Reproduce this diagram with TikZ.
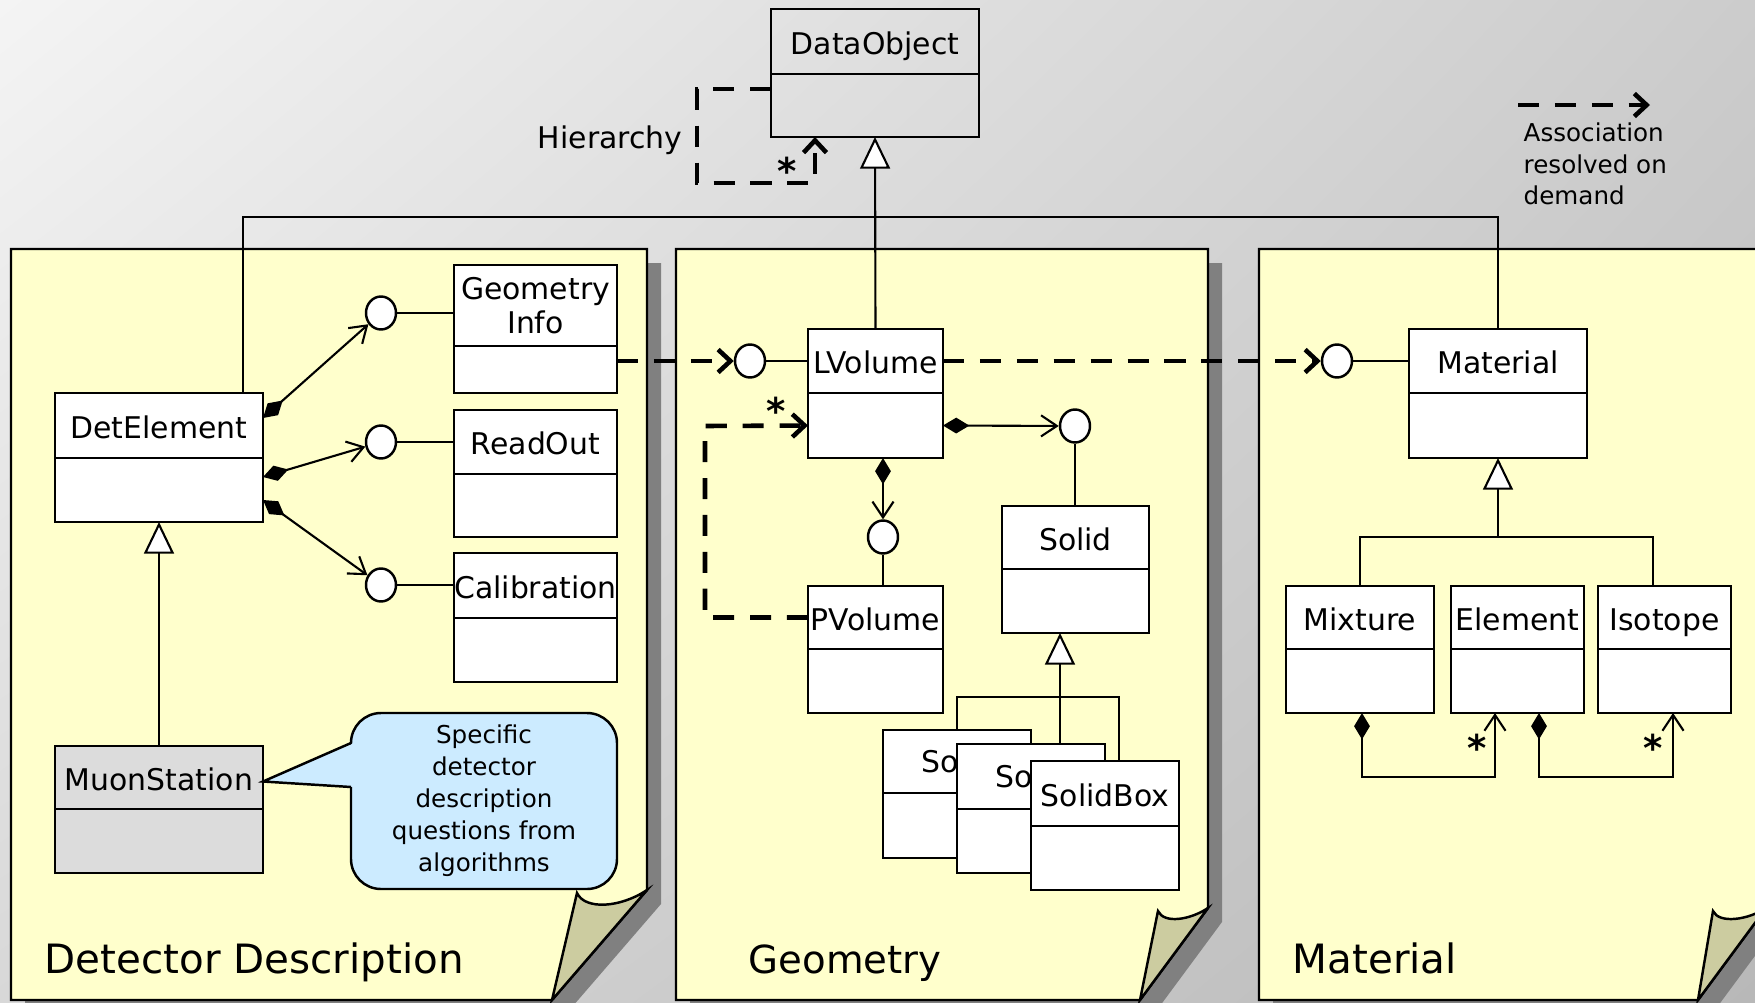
\documentclass[tikz,border=0pt]{standalone}
\usepackage{fontspec}
\setmainfont{DejaVu Sans}
\usetikzlibrary{arrows.meta,shapes.geometric,shadings,positioning}
\definecolor{paper}{RGB}{255,255,204}
\definecolor{flap}{RGB}{204,204,160}
\definecolor{shadowgray}{RGB}{128,128,128}
\definecolor{notefill}{RGB}{204,235,255}
\definecolor{muongray}{RGB}{220,220,220}
\definecolor{bgul}{RGB}{244,244,244}
\definecolor{bgur}{RGB}{204,204,204}
\definecolor{bgll}{RGB}{216,216,216}
\definecolor{bglr}{RGB}{184,184,184}
\begin{document}
\begin{tikzpicture}[x=0.1mm, y=-0.1mm,
    hdr/.style={draw, line width=0.7pt, inner sep=0pt, outer sep=0pt, anchor=north, align=center,
      font=\fontsize{8.5}{9.8}\selectfont},
    oneline/.style={text height=0.73em, text depth=0pt},
    bdy/.style={draw, line width=0.7pt, inner sep=0pt, outer sep=0pt, anchor=north},
    cname/.style={inner sep=0pt, font=\fontsize{8.5}{9.8}\selectfont},
    iface/.style={ellipse, draw, fill=white, line width=0.7pt, minimum width=3mm, minimum height=3.3mm, inner sep=0pt},
    link/.style={line width=0.6pt},
    inh/.style={link, -{Triangle[length=9pt,width=8.5pt,fill=white]}},
    comp/.style={link, {Diamond[length=7.5pt,width=4.5pt]}-{Straight Barb[length=4.5pt,width=6pt]}},
    assoc/.style={line width=1.3pt, dash pattern=on 6pt off 4.5pt, -{Straight Barb[length=3.5pt,width=6.5pt]}},
    mult/.style={anchor=north, inner sep=0pt, font=\fontsize{10.5}{11}\selectfont\bfseries},
    panel/.style={draw, fill=paper, line width=0.7pt},
    lbl/.style={anchor=base west, inner sep=0pt, font=\fontsize{11.5}{13}\selectfont}]

    \useasboundingbox (0,0) rectangle (1755,1003);
    \shade[shading=bilinear interpolation, upper left=bgul, upper right=bgur, lower left=bgll, lower right=bglr] (0,0) rectangle (1755,1003);

    \foreach \l/\r/\f/\b in {11/647/890/552, 676/1208/908/1140, 1259/1766/908/1698} {
        \fill[shadowgray] (\l+14,263) -- (\r+14,263) -- (\r+14,\f+14) -- (\b+14,1014) -- (\l+14,1014) -- cycle;
    }
    \foreach \l/\r/\f/\b in {11/647/890/552, 676/1208/908/1140, 1259/1766/908/1698} {
        \draw[panel] (\l,249) -- (\r,249) -- (\r,\f) -- (\b,1000) -- (\l,1000) -- cycle;
    }
    \draw[fill=flap, line width=0.7pt] (577,893) .. controls +(8,17) and +(-27,18) .. (647,890) -- (552,1000) -- cycle;
    \draw[fill=flap, line width=0.7pt] (1158,911) .. controls +(6,13) and +(-18,12) .. (1208,908) -- (1140,1000) -- cycle;
    \draw[fill=flap, line width=0.7pt] (1713,911) .. controls +(6,13) and +(-18,12) .. (1766,908) -- (1698,1000) -- cycle;

    \node[lbl] (ddlabel) at (44,973) {Detector Description};
    \node[lbl, font=\fontsize{11}{13}\selectfont] (geolabel) at (748,973) {Geometry};
    \node[lbl] (matlabel) at (1292,973) {Material};

    \foreach \nm/\cx/\ty/\w/\hh/\bh/\fc in {
        DataObject/875/9/208/65/63/none,
        DetElement/159/393/208/65/64/white,
        ReadOut/535.5/410/163/64/63/white,
        Calibration/535.5/553/163/65/64/white,
        MuonStation/159/746/208/63/64/muongray,
        LVolume/875.5/329/135/64/65/white,
        PVolume/875.5/586/135/63/64/white,
        Solid/1075.5/506/147/63/64/white,
        Material/1498/329/178/64/65/white,
        Mixture/1360/586/148/63/64/white,
        Element/1517.5/586/133/63/64/white,
        Isotope/1664.5/586/133/63/64/white} {
        \node[hdr, oneline, fill=\fc, minimum width={\w*0.1mm}, minimum height={\hh*0.1mm}] (\nm) at (\cx,\ty) {\nm};
        \node[bdy, fill=\fc, minimum width={\w*0.1mm}, minimum height={\bh*0.1mm}] (\nm-b) at (\nm.south) {};
    }
    \node[hdr, fill=white, minimum width=16.3mm, minimum height=8.1mm] (GeometryInfo) at (535.5,265) {Geometry\\Info};
    \node[bdy, fill=white, minimum width=16.3mm, minimum height=4.7mm] (GeometryInfo-b) at (GeometryInfo.south) {};

    \node[hdr, fill=white, minimum width=14.8mm, minimum height=6.3mm] (So1) at (957,730) {};
    \node[bdy, fill=white, minimum width=14.8mm, minimum height=6.5mm] (So1-b) at (So1.south) {};
    \node[cname, anchor=west] (So1-t) at ([xshift=3.8mm]So1.west) {So};
    \node[hdr, fill=white, minimum width=14.8mm, minimum height=6.5mm] (So2) at (1031,744) {};
    \node[bdy, fill=white, minimum width=14.8mm, minimum height=6.4mm] (So2-b) at (So2.south) {};
    \node[cname, anchor=west] (So2-t) at ([xshift=3.8mm]So2.west) {So};
    \node[hdr, oneline, fill=white, minimum width=14.8mm, minimum height=6.5mm] (SolidBox) at (1105,761) {SolidBox};
    \node[bdy, fill=white, minimum width=14.8mm, minimum height=6.4mm] (SolidBox-b) at (SolidBox.south) {};

    \coordinate (tl) at (243,217);
    \coordinate (tr) at (1498,217);
    \draw[link] (tl |- DetElement.north) -- (tl) -- (tr) -- (Material.north);
    \draw[inh] (LVolume.north) -- (DataObject-b.south);

    \coordinate (h1) at (697,89);
    \coordinate (h2) at (697,183);
    \coordinate (h3) at (815,183);
    \draw[assoc] (h1 -| DataObject-b.west) -- (h1) -- (h2) -- (h3) -- (h3 |- DataObject-b.south);
    \node[mult] (hstar) at (787,156) {*};
    \node[cname, anchor=east] (hier) at (683,140) {Hierarchy};

    \node[iface] (gi) at (381,313) {};
    \node[iface] (ri) at (381,442) {};
    \node[iface] (ci) at (381,585) {};
    \draw[link] (gi) -- (gi -| GeometryInfo.west);
    \draw[link] (ri) -- (ri -| ReadOut.west);
    \draw[link] (ci) -- (ci -| Calibration.west);
    \draw[comp] ([yshift=0.75mm]DetElement.east) -- (gi);
    \draw[comp] ([yshift=1.3mm]DetElement-b.east) -- (ri);
    \draw[comp] ([yshift=-1mm]DetElement-b.east) -- (ci);
    \draw[inh] (MuonStation.north) -- (DetElement-b.south);

    \node[draw, fill=notefill, rounded corners=3mm, line width=0.7pt, minimum width=26.6mm, minimum height=17.6mm,
      inner sep=0pt, align=center, font=\fontsize{7}{9.1}\selectfont] (note) at (484,801)
      {Specific\\detector\\description\\questions from\\algorithms};
    \coordinate (n1) at (351,743);
    \coordinate (n2) at (351,787);
    \coordinate (ntip) at ([yshift=-0.4mm]MuonStation.east);
    \fill[notefill] (ntip) -- ([xshift=0.3mm]n1) -- ([xshift=0.3mm]n2) -- cycle;
    \draw[line width=0.7pt] (n1) -- (ntip) -- (n2);

    \node[iface] (li) at (750,361) {};
    \node[iface] (si) at (1075,426) {};
    \node[iface] (pi) at (883,537) {};
    \node[iface] (mi) at (1337,361) {};
    \draw[link] (li) -- (LVolume.west);
    \draw[assoc] (li -| GeometryInfo-b.east) -- (li);
    \draw[assoc] (LVolume.east) -- (mi);
    \draw[link] (mi) -- (Material.west);
    \draw[comp] (LVolume-b.east) -- (si);
    \draw[link] (si) -- (si |- Solid.north);
    \draw[comp] (pi |- LVolume-b.south) -- (pi);
    \draw[link] (pi) -- (pi |- PVolume.north);
    \coordinate (p2) at (705,426);
    \draw[assoc] (PVolume.west) -| (p2) -- (LVolume-b.west);
    \node[mult] (pstar) at (776,396) {*};

    \coordinate (soj) at (1060,697);
    \coordinate (sor) at (1119,697);
    \draw[inh] (soj |- So2.north) -- (soj |- Solid-b.south);
    \draw[link] (So1.north) |- (sor) -- (sor |- SolidBox.north);

    \coordinate (mj) at (1498,537);
    \coordinate (mr) at (1653,537);
    \draw[inh] (mj) -- (Material-b.south);
    \draw[link] (Mixture.north) |- (mr) -- (mr |- Isotope.north);
    \coordinate (m1) at (1362,777);
    \coordinate (m2) at (1495,777);
    \coordinate (m3) at (1539,777);
    \coordinate (m4) at (1673,777);
    \draw[comp] (m1 |- Mixture-b.south) -- (m1) -- (m2) -- (m2 |- Element-b.south);
    \draw[comp] (m3 |- Element-b.south) -- (m3) -- (m4) -- (m4 |- Isotope-b.south);
    \node[mult] (estar) at (1477,733) {*};
    \node[mult] (istar) at (1653,733) {*};

    \coordinate (lg1) at (1518,105);
    \coordinate (lg2) at (1650,105);
    \draw[assoc] (lg1) -- (lg2);
    \node[anchor=north west, align=left, inner sep=0pt, font=\fontsize{7}{9}\selectfont] (legend) at (1523,122)
      {Association\\resolved on\\demand};
\end{tikzpicture}
\end{document}
